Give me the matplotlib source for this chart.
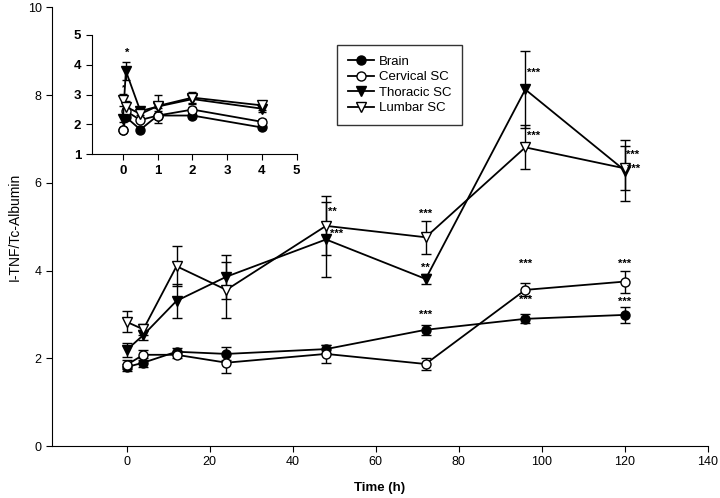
import matplotlib
matplotlib.use("Agg")
import matplotlib.pyplot as plt
from matplotlib.lines import Line2D

plt.rcParams['font.family'] = ['Liberation Sans', 'DejaVu Sans']

# main data (h)
time = [0, 4, 12, 24, 48, 72, 96, 120]
brain = [1.80, 1.90, 2.15, 2.10, 2.21, 2.65, 2.90, 2.99]
brain_err = [0.08, 0.10, 0.08, 0.15, 0.10, 0.12, 0.10, 0.18]
cervical = [1.85, 2.08, 2.08, 1.90, 2.10, 1.87, 3.56, 3.75]
cervical_err = [0.10, 0.12, 0.08, 0.23, 0.20, 0.13, 0.15, 0.25]
thoracic = [2.19, 2.53, 3.31, 3.86, 4.71, 3.81, 8.13, 6.28]
thoracic_err = [0.15, 0.12, 0.38, 0.50, 0.85, 0.12, 0.87, 0.70]
lumbar = [2.83, 2.66, 4.10, 3.56, 5.02, 4.76, 6.81, 6.33]
lumbar_err = [0.24, 0.12, 0.45, 0.64, 0.67, 0.38, 0.50, 0.50]

# inset data (early time points)
time_in = [0, 0.083, 0.5, 1, 2, 4]
brain_in = [1.80, 2.25, 1.83, 2.30, 2.30, 1.90]
brain_in_err = [0.05, 0.08, 0.05, 0.10, 0.08, 0.06]
cervical_in = [1.83, 2.45, 2.15, 2.30, 2.50, 2.09]
cervical_in_err = [0.05, 0.10, 0.08, 0.25, 0.10, 0.08]
thoracic_in = [2.20, 3.79, 2.45, 2.60, 2.85, 2.53]
thoracic_in_err = [0.10, 0.30, 0.12, 0.15, 0.15, 0.12]
lumbar_in = [2.81, 2.60, 2.35, 2.62, 2.90, 2.64]
lumbar_in_err = [0.20, 0.20, 0.10, 0.37, 0.18, 0.15]

labels = ['Brain', 'Cervical SC', 'Thoracic SC', 'Lumbar SC']
markers = ['o', 'o', 'v', 'v']
faces = ['black', 'white', 'black', 'white']

# significance stars: (x, y, text, ha)
stars = [(48.6, 5.34, '**', 'left'), (49.0, 4.83, '***', 'left'),
         (72, 5.29, '***', 'center'), (72, 4.06, '**', 'center'),
         (72, 2.99, '***', 'center'),
         (96.3, 8.51, '***', 'left'), (96.3, 7.07, '***', 'left'),
         (96, 4.15, '***', 'center'), (96, 3.33, '***', 'center'),
         (120.2, 6.64, '***', 'left'), (120.4, 6.32, '***', 'left'),
         (120, 4.15, '***', 'center'), (120, 3.29, '***', 'center')]

fig = plt.figure(figsize=(7.2, 4.98), dpi=100)
ax = fig.add_axes([0.0722, 0.1044, 0.9111, 0.8806])

main_sets = [(brain, brain_err), (cervical, cervical_err),
             (thoracic, thoracic_err), (lumbar, lumbar_err)]
for (vals, err), m, fc in zip(main_sets, markers, faces):
    ax.errorbar(time, vals, yerr=err, fmt='-', marker=m, color='black',
                mfc=fc, mec='black', ms=6.5, lw=1.3, elinewidth=1,
                capsize=3.5, capthick=1)

for x, y, t, ha in stars:
    ax.text(x, y, t, ha=ha, va='center', fontsize=8, fontweight='bold')

ax.set_xlim(-18, 140)
ax.set_ylim(0, 10)
ax.set_xticks([0, 20, 40, 60, 80, 100, 120, 140])
ax.set_yticks([0, 2, 4, 6, 8, 10])
ax.spines['top'].set_visible(False)
ax.spines['right'].set_visible(False)
ax.tick_params(direction='out', length=4, labelsize=9)
ax.set_xlabel('Time (h)', fontsize=9.5, fontweight='bold')
ax.set_ylabel('I-TNF/Tc-Albumin', fontsize=10)
ax.xaxis.set_label_coords(0.5, -0.082)
ax.yaxis.set_label_coords(-0.046, 0.5)

handles = [Line2D([], [], color='black', lw=1.3, marker=m, mfc=fc,
                  mec='black', ms=6.5, label=lab)
           for lab, m, fc in zip(labels, markers, faces)]
leg = ax.legend(handles=handles, loc='upper left',
                bbox_to_anchor=(0.4345, 0.9145), fontsize=9.5, frameon=True,
                fancybox=False, edgecolor='black', handlelength=2.0,
                borderpad=0.8, labelspacing=0.25, handletextpad=0.4,
                borderaxespad=0)
leg.get_frame().set_linewidth(1)

# inset
ins = fig.add_axes([0.1274, 0.690, 0.2847, 0.240])
inset_sets = [(brain_in, brain_in_err), (cervical_in, cervical_in_err),
              (thoracic_in, thoracic_in_err), (lumbar_in, lumbar_in_err)]
for (vals, err), m, fc in zip(inset_sets, markers, faces):
    ins.errorbar(time_in, vals, yerr=err, fmt='-', marker=m, color='black',
                 mfc=fc, mec='black', ms=6.5, lw=1.3, elinewidth=1,
                 capsize=3, capthick=1)
ins.text(0.115, 4.39, '*', ha='center', va='center', fontsize=8, fontweight='bold')
ins.text(0.02, 3.23, '*', ha='center', va='center', fontsize=6, fontweight='bold')
ins.set_xlim(-0.9, 5)
ins.set_ylim(1, 5)
ins.set_xticks([0, 1, 2, 3, 4, 5])
ins.set_yticks([1, 2, 3, 4, 5])
ins.spines['top'].set_visible(False)
ins.spines['right'].set_visible(False)
ins.tick_params(direction='out', length=4, labelsize=9.5)
for lbl in ins.get_xticklabels() + ins.get_yticklabels():
    lbl.set_fontweight('bold')

fig.savefig('out.png', dpi=100)
